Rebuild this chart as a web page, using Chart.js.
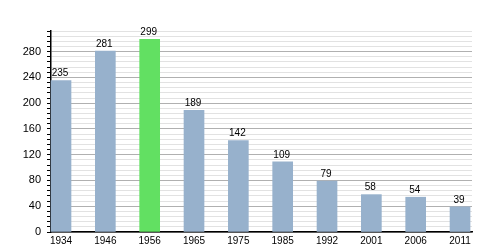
<!DOCTYPE html>
<html>
<head>
<meta charset="utf-8">
<script src="https://cdn.jsdelivr.net/npm/chart.js@4"></script>
<style>
  html, body { margin: 0; padding: 0; background: #fff; }
  #wrap { width: 500px; height: 250px; }
</style>
</head>
<body>
<div id="wrap"><canvas id="pop-chart" width="500" height="250"></canvas></div>
<script>
const years = ['1934', '1946', '1956', '1965', '1975', '1985', '1992', '2001', '2006', '2011'];
const population = [235, 281, 299, 189, 142, 109, 79, 58, 54, 39];
const highlightYear = '1956';

const barBlue = '#97b1cc';
const barGreen = '#62e062';

const ctx = document.getElementById('pop-chart').getContext('2d');

// value labels above each bar
const valueLabels = {
    id: 'valueLabels',
    afterDatasetsDraw(chart) {
        const c = chart.ctx;
        const meta = chart.getDatasetMeta(0);
        c.save();
        c.font = '10px "Liberation Sans", Arial, sans-serif';
        c.fillStyle = '#000';
        c.textAlign = 'center';
        c.textBaseline = 'bottom';
        meta.data.forEach((bar, i) => {
            c.fillText(String(population[i]), bar.x - 1, bar.y - 2);
        });
        c.restore();
    }
};

const points = years.map((y, i) => ({ x: i, y: population[i] }));

new Chart(ctx, {
    type: 'bar',
    data: {
        datasets: [{
            data: points,
            backgroundColor: years.map(y => y === highlightYear ? barGreen : barBlue),
            borderWidth: 0,
            barThickness: 20,
            clip: false
        }]
    },
    options: {
        responsive: false,
        animation: false,
        layout: { padding: { top: 31, right: 28, left: 0, bottom: 0 } },
        plugins: { legend: { display: false }, tooltip: { enabled: false } },
        scales: {
            x: {
                type: 'linear',
                offset: false,
                min: -0.2256,
                max: 9.27,
                grid: { display: false, drawTicks: false, offset: false },
                border: { color: '#000', width: 1.5 },
                ticks: {
                    stepSize: 1,
                    includeBounds: false,
                    autoSkip: false,
                    maxRotation: 0,
                    padding: 3,
                    color: '#000',
                    font: { family: '"Liberation Sans", Arial, sans-serif', size: 10 },
                    callback: v => Number.isInteger(v) ? years[v] : ''
                },
                afterFit: scale => { scale.height = 18; }
            },
            y: {
                min: 0,
                max: 312,
                grid: {
                    color: c => (c.tick && c.tick.value % 40 === 0) ? '#b0b0b0' : '#e2e2e2',
                    tickColor: '#000',
                    tickLength: 4
                },
                border: { color: '#000', width: 1.5 },
                ticks: {
                    stepSize: 8,
                    autoSkip: false,
                    padding: 6,
                    color: '#000',
                    font: { family: '"Liberation Sans", Arial, sans-serif', size: 11 },
                    callback: v => (v % 40 === 0 && v < 312) ? v : ''
                },
                afterFit: scale => { scale.width = 51; }
            }
        }
    },
    plugins: [valueLabels]
});
</script>
</body>
</html>
